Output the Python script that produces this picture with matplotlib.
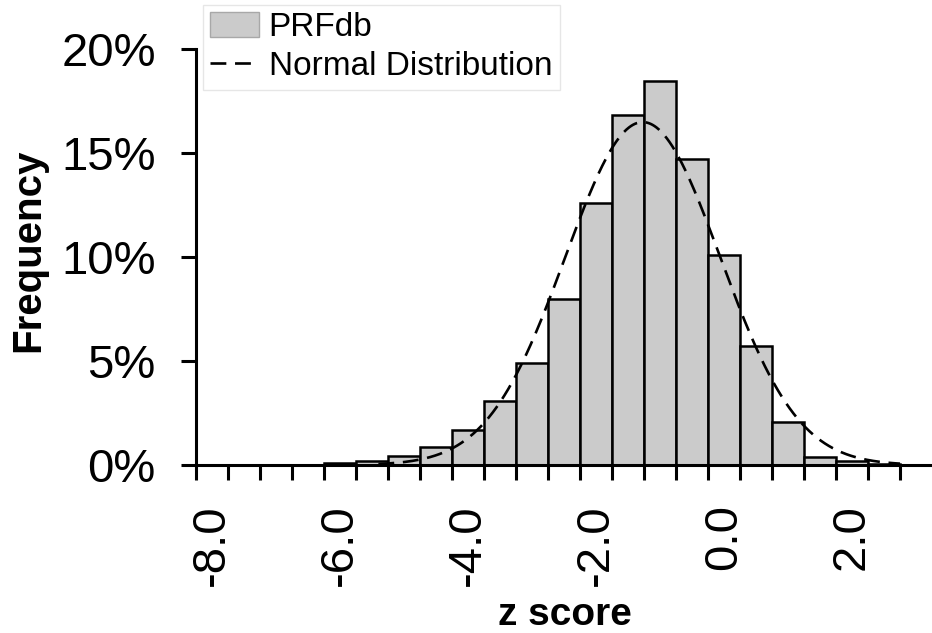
import numpy as np
import matplotlib
matplotlib.use('Agg')
import matplotlib.pyplot as plt

plt.rcParams['font.family'] = ['Liberation Sans', 'DejaVu Sans']

# ---- data ----
bin_centers = [-6.0, -5.5, -5.0, -4.5, -4.0, -3.5, -3.0, -2.5, -2.0, -1.5,
               -1.0, -0.5, 0.0, 0.5, 1.0, 1.5, 2.0, 2.5]
freq_pct = [0.10, 0.18, 0.42, 0.88, 1.68, 3.10, 4.90, 8.00, 12.60, 16.85,
            18.45, 14.70, 10.10, 5.70, 2.05, 0.40, 0.17, 0.06]
bin_width = 0.5
x_tick_values = [-8.0, -6.0, -4.0, -2.0, 0.0, 2.0]
x_tick_labels = ['-8.0', '-6.0', '-4.0', '-2.0', '0.0', '2.0']
y_tick_values = [0, 5, 10, 15, 20]
y_tick_labels = ['0%', '5%', '10%', '15%', '20%']
normal_mu = -1.27
normal_sigma = 1.21

W, H = 932, 633
fig = plt.figure(figsize=(W / 100, H / 100), dpi=100)
ax = fig.add_axes([196 / W, 1 - 465 / H, 1 - 196 / W, (465 - 7.4) / H])
ax.set_xlim(-8.25, 3.25)
ax.set_ylim(0, 22)

bars = ax.bar(bin_centers, freq_pct, width=bin_width, color='#cbcbcb',
              edgecolor='black', linewidth=1.8, label='PRFdb', zorder=2)

xs = np.linspace(-5.4, 2.75, 800)
ys = bin_width * 100 * np.exp(-0.5 * ((xs - normal_mu) / normal_sigma) ** 2) / (
    normal_sigma * np.sqrt(2 * np.pi))
curve, = ax.plot(xs, ys, color='black', lw=1.9, dashes=(6, 3.3),
                 label='Normal Distribution', zorder=2.3)

for s in ['top', 'right']:
    ax.spines[s].set_visible(False)
for s in ['left', 'bottom']:
    ax.spines[s].set_linewidth(2.2)
    ax.spines[s].set_zorder(2.6)
ax.spines['left'].set_bounds(0, 20)

ax.set_yticks(y_tick_values)
ax.set_yticklabels(y_tick_labels)
ax.tick_params(axis='y', length=11, width=2.2, labelsize=34, pad=18)

ax.set_xticks(x_tick_values)
ax.set_xticklabels(x_tick_labels, rotation=90)
ax.tick_params(axis='x', which='major', length=0, labelsize=34, pad=28)
ax.set_xticks(np.arange(-8.25, 2.76, 0.5), minor=True)
ax.tick_params(axis='x', which='minor', length=11, width=2.2)

leg = ax.legend([bars, curve], ['PRFdb', 'Normal Distribution'],
                loc='upper left', bbox_to_anchor=(203 / W, 1 - 5 / H),
                bbox_transform=fig.transFigure, fontsize=24, frameon=True,
                fancybox=False, edgecolor='#e0e0e0', borderpad=0.22,
                handlelength=1.45, handleheight=0.75, handletextpad=0.3,
                labelspacing=0.24, borderaxespad=0)
leg.get_frame().set_linewidth(1.0)
h0 = leg.legend_handles[0]
h0.set_edgecolor('#a8a8a8')
h0.set_linewidth(1.0)

fig.text(28 / W, 1 - 250 / H, 'Frequency', rotation=90, fontsize=29,
         fontweight='bold', ha='center', va='center')
fig.text(565 / W, 1 - 625 / H, 'z score', fontsize=28, fontweight='bold',
         ha='center', va='baseline')

fig.savefig('out.png', dpi=100)
